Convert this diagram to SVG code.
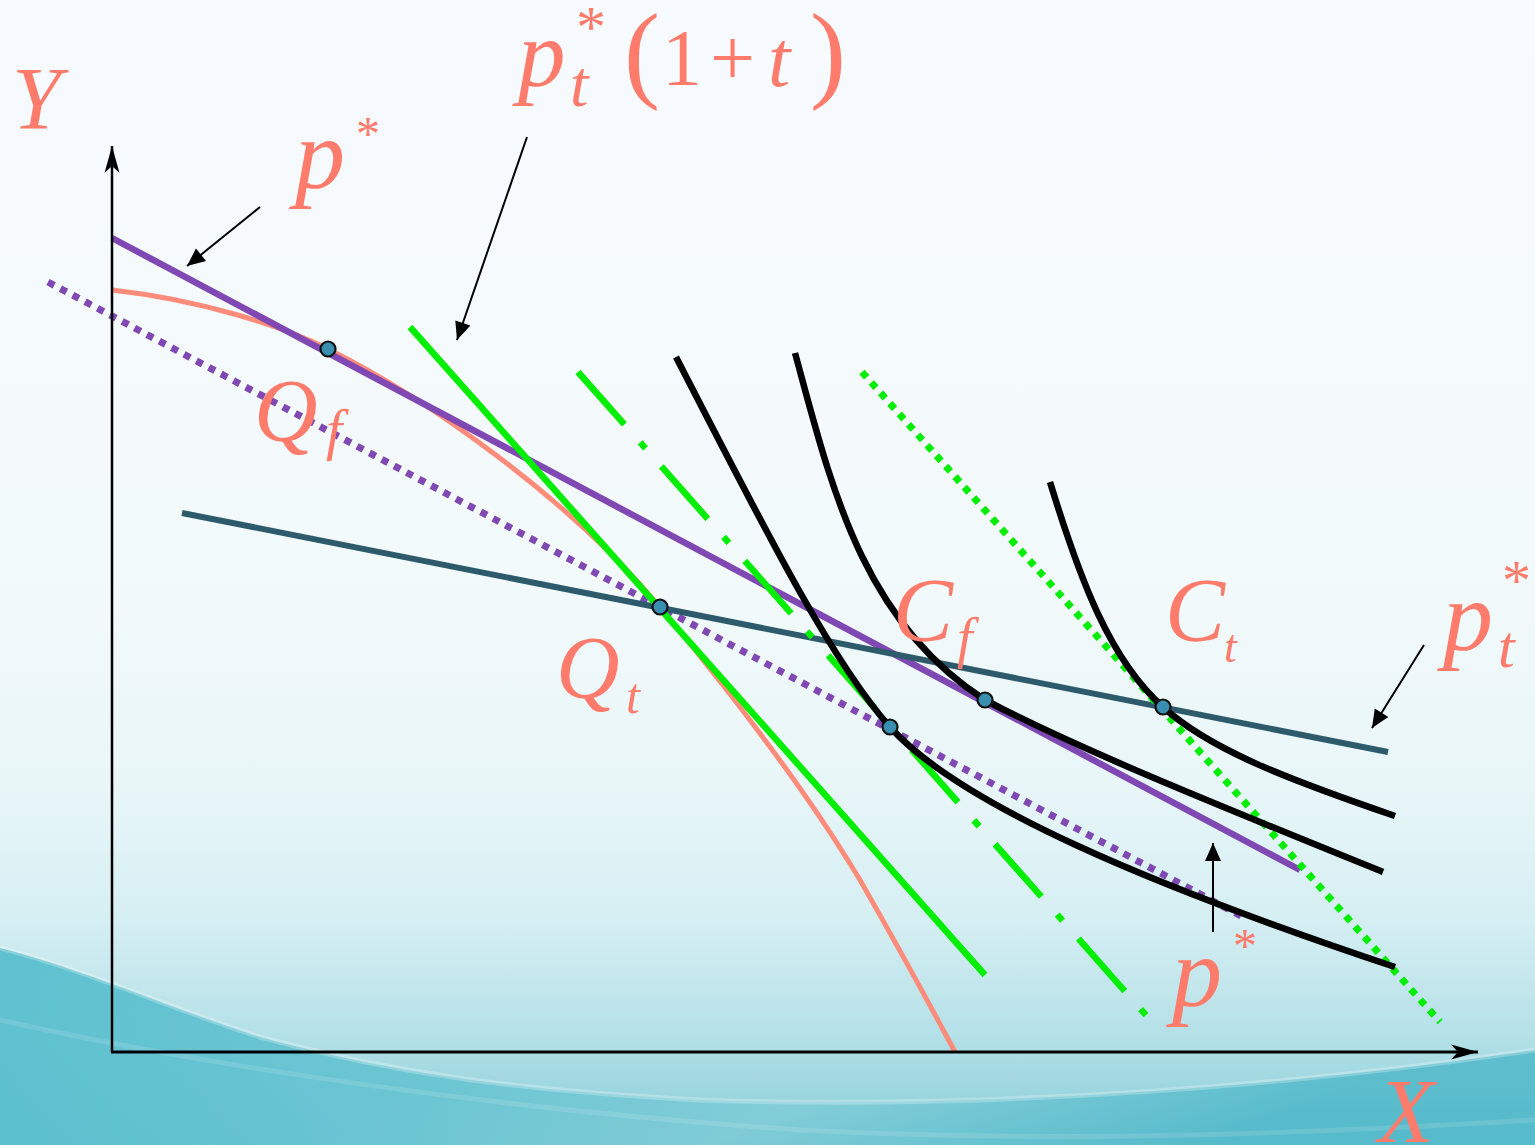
<svg xmlns="http://www.w3.org/2000/svg" width="1535" height="1145" viewBox="0 0 1535 1145">
<style>
.lbl{font-family:"Liberation Serif","DejaVu Serif",serif;fill:#FF7B6B;font-style:italic}
.up{font-style:normal}
.dot{fill:#3A8FB0;stroke:#111;stroke-width:2.2}
.ic{fill:none;stroke:#000;stroke-width:6.5;stroke-linecap:butt}
.arr{stroke:#000;stroke-width:2;fill:none}
</style>
<defs>
<linearGradient id="bg" x1="0" y1="0" x2="0" y2="1">
<stop offset="0" stop-color="#F7FAFE"/>
<stop offset="0.5" stop-color="#F3FAFB"/>
<stop offset="0.68" stop-color="#E9F6F8"/>
<stop offset="0.8" stop-color="#D6EFF3"/>
<stop offset="0.9" stop-color="#B6E1E8"/>
<stop offset="1" stop-color="#86CDD8"/>
</linearGradient>
<linearGradient id="wave" x1="0" y1="0" x2="1" y2="0.3">
<stop offset="0" stop-color="#3AB3C5"/>
<stop offset="0.45" stop-color="#5BC0CE"/>
<stop offset="0.7" stop-color="#7CCBD6"/>
<stop offset="1" stop-color="#45B4C6"/>
</linearGradient>
<marker id="axhead" markerUnits="userSpaceOnUse" markerWidth="30" markerHeight="20" viewBox="-28 -10 30 20" refX="0" refY="0" orient="auto">
<path d="M0,0 L-27,-7.5 L-20,0 L-27,7.5 Z" fill="#000"/>
</marker>
<marker id="head" markerUnits="userSpaceOnUse" markerWidth="22" markerHeight="20" viewBox="-20 -10 22 20" refX="0" refY="0" orient="auto">
<path d="M0,0 L-18,-8 L-18,8 Z" fill="#000"/>
</marker>
</defs>
<g id="background">
<rect x="0" y="0" width="1535" height="1145" fill="url(#bg)"/>
<path d="M0,948 C80,968 170,1008 260,1037 C400,1075 520,1090 700,1100 C1000,1110 1300,1085 1535,1050 L1535,1145 L0,1145 Z" fill="url(#wave)" opacity="0.75"/>
<path d="M0,948 C80,968 170,1008 260,1037 C400,1075 520,1090 700,1100 C1000,1110 1300,1085 1535,1050" fill="none" stroke="#FFFFFF" stroke-opacity="0.25" stroke-width="5"/>
<path d="M0,1020 C200,1065 500,1110 800,1130 C1000,1140 1200,1140 1535,1120" fill="none" stroke="#FFFFFF" stroke-opacity="0.12" stroke-width="5"/>
</g>
<g id="curves">
<path id="ppf" d="M112,290 C200,300 280,325 328,349 C430,400 570,500 660,607 C720,680 800,780 860,880 C900,950 930,1005 955,1052" fill="none" stroke="#FF8C7A" stroke-width="5"/>
<line id="price-p-dotted" x1="48" y1="282" x2="1245" y2="918" stroke="#7F48B3" stroke-width="7" stroke-dasharray="7 7"/>
<line id="price-p" x1="112" y1="238" x2="1300" y2="870" stroke="#7F48B3" stroke-width="6.5"/>
<line id="price-pt" x1="182" y1="513" x2="1388" y2="752" stroke="#2E5B6B" stroke-width="6"/>
<line id="green-solid" x1="410" y1="327" x2="985" y2="975" stroke="#00EE00" stroke-width="6.5"/>
<line id="green-dashdot" x1="578" y1="372" x2="1152" y2="1022" stroke="#00EE00" stroke-width="6.5" stroke-dasharray="70 24 8 24"/>
<line id="green-dotted" x1="862" y1="372" x2="1440" y2="1022" stroke="#00EE00" stroke-width="7" stroke-dasharray="7 7"/>
<path id="ic1" class="ic" d="M676,357 C760,520 830,660 890,727 C960,805 1150,885 1395,967"/>
<path id="ic2" class="ic" d="M795,353 C830,480 860,620 985,700 C1080,750 1230,810 1383,872"/>
<path id="ic3" class="ic" d="M1050,482 C1080,580 1110,660 1163,707 C1210,750 1290,780 1395,816"/>
</g>
<g id="axes">
<line x1="112" y1="1052" x2="112" y2="146" stroke="#000" stroke-width="2.5" marker-end="url(#axhead)"/>
<line x1="111" y1="1052" x2="1478" y2="1052" stroke="#000" stroke-width="3" marker-end="url(#axhead)"/>
</g>
<g id="points">
<circle id="pt-qf" class="dot" cx="328" cy="349" r="7.5"/>
<circle id="pt-qt" class="dot" cx="660" cy="607" r="7.5"/>
<circle id="pt-a" class="dot" cx="890" cy="727" r="7.5"/>
<circle id="pt-cf" class="dot" cx="985" cy="700" r="7.5"/>
<circle id="pt-ct" class="dot" cx="1163" cy="707" r="7.5"/>
</g>
<g id="connectors">
<line class="arr" x1="260" y1="207" x2="187" y2="266" marker-end="url(#head)"/>
<line class="arr" x1="527" y1="137" x2="457" y2="340" marker-end="url(#head)"/>
<line class="arr" x1="1424" y1="645" x2="1372" y2="728" marker-end="url(#head)"/>
<line class="arr" x1="1213" y1="932" x2="1213" y2="843" marker-end="url(#head)"/>
</g>
<g id="labels">
<g id="label-Y"><text class="lbl" x="12" y="128" font-size="88">Y</text></g>
<g id="label-X"><text class="lbl" x="1378" y="1142" font-size="92">X</text></g>
<g id="label-p-top"><text class="lbl" x="295" y="188" font-size="100">p</text><text class="lbl up" x="356" y="150" font-size="48">*</text></g>
<g id="label-pt1t">
<text class="lbl" x="518" y="86" font-size="95">p</text>
<text class="lbl" x="570" y="106" font-size="66">t</text>
<text class="lbl up" x="576" y="47" font-size="60">*</text>
<text class="lbl up" x="624" y="88" font-size="108">(</text>
<text class="lbl up" x="662" y="85" font-size="80">1</text>
<text class="lbl up" x="710" y="85" font-size="80">+</text>
<text class="lbl" x="768" y="86" font-size="80">t</text>
<text class="lbl up" x="810" y="88" font-size="108">)</text>
</g>
<g id="label-Qf"><text class="lbl" x="254" y="440" font-size="88">Q</text><text class="lbl" x="326" y="449" font-size="58">f</text></g>
<g id="label-Qt"><text class="lbl" x="556" y="697" font-size="88">Q</text><text class="lbl" x="626" y="713" font-size="50">t</text></g>
<g id="label-Cf"><text class="lbl" x="893" y="641" font-size="90">C</text><text class="lbl" x="957" y="657" font-size="56">f</text></g>
<g id="label-Ct"><text class="lbl" x="1165" y="641" font-size="90">C</text><text class="lbl" x="1224" y="662" font-size="46">t</text></g>
<g id="label-pt-right"><text class="lbl" x="1443" y="650" font-size="100">p</text><text class="lbl" x="1498" y="667" font-size="60">t</text><text class="lbl up" x="1502" y="600" font-size="58">*</text></g>
<g id="label-p-bottom"><text class="lbl" x="1172" y="1006" font-size="100">p</text><text class="lbl up" x="1233" y="962" font-size="48">*</text></g>
</g>
</svg>
